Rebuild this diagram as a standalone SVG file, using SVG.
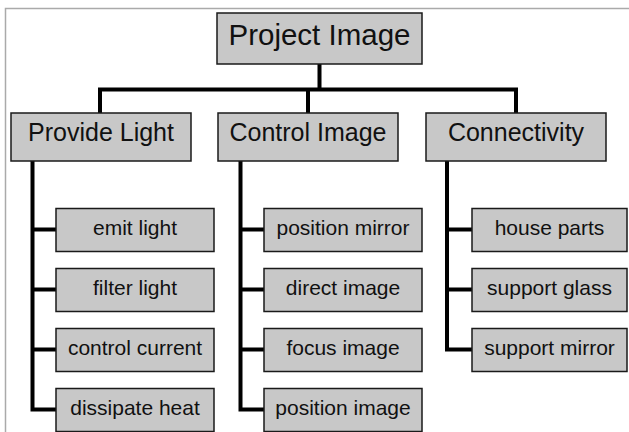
<svg xmlns="http://www.w3.org/2000/svg" width="629" height="432" viewBox="0 0 629 432">
<style>
.box{fill:#c8c8c8;stroke:#1a1a1a;stroke-width:1.5}
.t{font-family:"Liberation Sans",Arial,sans-serif;fill:#111;text-anchor:middle}
.t0{font-size:29.5px}
.t1{font-size:25px}
.t2{font-size:21px}
.c{fill:none;stroke:#000;stroke-width:4;stroke-linejoin:miter}
</style>
<rect width="629" height="432" fill="#fff"/>
<path d="M5.5 432 V8.5 H629" fill="none" stroke="#aaa" stroke-width="1.5"/>
<g id="connectors">
<path class="c" d="M319.5 64 V89.5 M100 113 V89.5 H516 V113 M308 89.5 V113"/>
<path class="c" d="M32.5 161 V409.5 H56 M32.5 229.5 H56 M32.5 289.5 H56 M32.5 349.5 H56"/>
<path class="c" d="M240.5 161 V409.5 H264 M240.5 229.5 H264 M240.5 289.5 H264 M240.5 349.5 H264"/>
<path class="c" d="M447 161 V349.5 H472 M447 229.5 H472 M447 289.5 H472"/>
</g>
<g id="root"><rect class="box" x="217" y="13" width="205" height="51"/><text class="t t0" x="319.5" y="45">Project Image</text></g>
<g id="provide-light"><rect class="box" x="11" y="113" width="180" height="48"/><text class="t t1" x="101" y="141">Provide Light</text></g>
<g id="control-image"><rect class="box" x="218" y="113" width="180" height="48"/><text class="t t1" x="308" y="141">Control Image</text></g>
<g id="connectivity"><rect class="box" x="426" y="113" width="180" height="48"/><text class="t t1" x="516" y="141">Connectivity</text></g>
<g id="emit-light"><rect class="box" x="56" y="208.5" width="158" height="43"/><text class="t t2" x="135" y="235">emit light</text></g>
<g id="filter-light"><rect class="box" x="56" y="268.5" width="158" height="43"/><text class="t t2" x="135" y="295">filter light</text></g>
<g id="control-current"><rect class="box" x="56" y="328.5" width="158" height="43"/><text class="t t2" x="135" y="355">control current</text></g>
<g id="dissipate-heat"><rect class="box" x="56" y="388.5" width="158" height="43"/><text class="t t2" x="135" y="415">dissipate heat</text></g>
<g id="position-mirror"><rect class="box" x="264" y="208.5" width="158" height="43"/><text class="t t2" x="343" y="235">position mirror</text></g>
<g id="direct-image"><rect class="box" x="264" y="268.5" width="158" height="43"/><text class="t t2" x="343" y="295">direct image</text></g>
<g id="focus-image"><rect class="box" x="264" y="328.5" width="158" height="43"/><text class="t t2" x="343" y="355">focus image</text></g>
<g id="position-image"><rect class="box" x="264" y="388.5" width="158" height="43"/><text class="t t2" x="343" y="415">position image</text></g>
<g id="house-parts"><rect class="box" x="472" y="208.5" width="155" height="43"/><text class="t t2" x="549.5" y="235">house parts</text></g>
<g id="support-glass"><rect class="box" x="472" y="268.5" width="155" height="43"/><text class="t t2" x="549.5" y="295">support glass</text></g>
<g id="support-mirror"><rect class="box" x="472" y="328.5" width="155" height="43"/><text class="t t2" x="549.5" y="355">support mirror</text></g>
</svg>
